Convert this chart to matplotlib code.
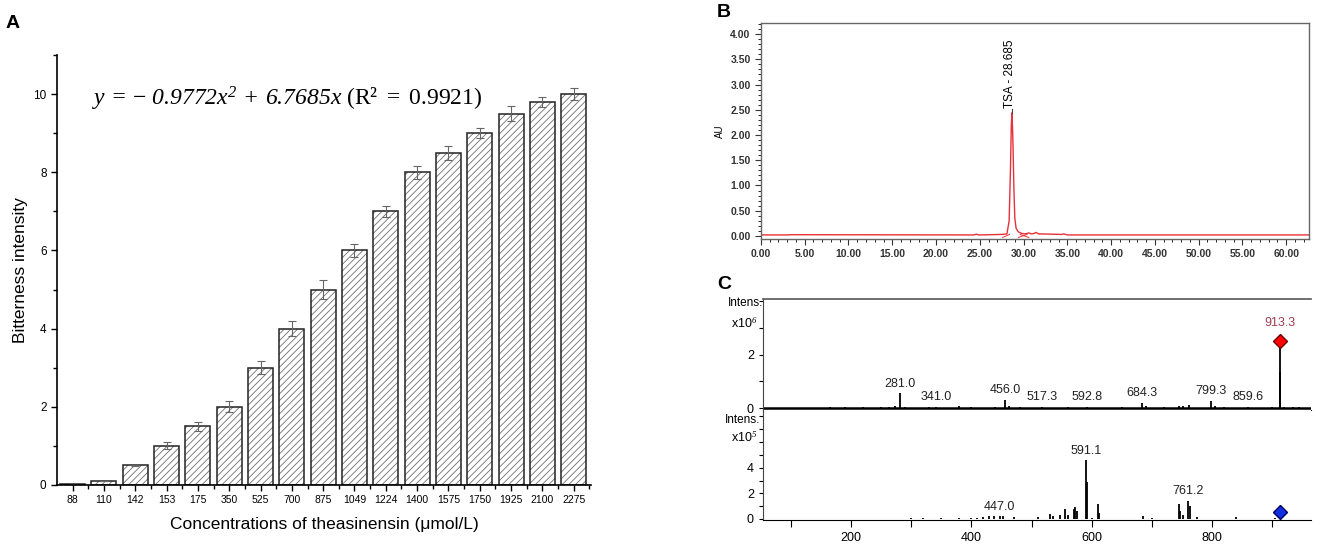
import matplotlib.pyplot as plt
from matplotlib.ticker import MultipleLocator, FormatStrFormatter
import numpy as np

plt.rcParams['font.family'] = ['Liberation Sans', 'DejaVu Sans']
plt.rcParams['hatch.linewidth'] = 0.6
plt.rcParams['mathtext.fontset'] = 'custom'
plt.rcParams['mathtext.rm'] = 'Liberation Serif:italic'
plt.rcParams['mathtext.it'] = 'Liberation Serif:italic'
plt.rcParams['mathtext.sf'] = 'Liberation Serif'

# panel A - bitterness
conc = ['88', '110', '142', '153', '175', '350', '525', '700', '875', '1049',
        '1224', '1400', '1575', '1750', '1925', '2100', '2275']
bitter = [0.02, 0.1, 0.5, 1.0, 1.5, 2.0, 3.0, 4.0, 5.0, 6.0, 7.0, 8.0, 8.5, 9.0, 9.5, 9.8, 10.0]
bitter_err = [0, 0, 0.02, 0.09, 0.11, 0.14, 0.17, 0.19, 0.24, 0.17, 0.14, 0.16, 0.18, 0.13, 0.19, 0.12, 0.15]
equation = (r'$y\,=\,\mathsf{-}\ 0.9772x^2\,+\,6.7685x\ \mathsf{(R' + '\u00b2'
            + r'\ =\ 0.9921)}$')

# panel B - HPLC trace
rt = [0, 3.0, 3.5, 24.3, 24.6, 24.9, 27.5, 28.1, 28.35, 28.5, 28.6, 28.68, 28.78, 28.9, 29.0, 29.15,
      29.4, 29.8, 30.2, 30.6, 30.9, 31.2, 31.45, 31.7, 32.2, 34.3, 34.6, 35.0, 45.0, 63.0]
au = [0.02, 0.02, 0.025, 0.02, 0.035, 0.02, 0.03, 0.04, 0.3, 1.3, 2.2, 2.44, 1.9, 0.9, 0.35, 0.15,
      0.08, 0.05, 0.04, 0.06, 0.04, 0.05, 0.07, 0.04, 0.04, 0.03, 0.04, 0.02, 0.02, 0.02]

# panel C - MS spectra
ms1_mz = [165, 190, 220, 250, 262, 272, 281.0, 290, 330, 341.0, 380, 400, 440, 456.0, 462, 480,
          517.3, 560, 592.8, 650, 684.3, 690, 720, 745, 752, 762, 799.3, 805, 820, 859.6, 900,
          913.3, 914.3, 920, 935, 945]
ms1_int = [0.03, 0.03, 0.02, 0.04, 0.05, 0.06, 0.55, 0.03, 0.03, 0.05, 0.06, 0.03, 0.03, 0.3, 0.08, 0.03,
           0.03, 0.02, 0.04, 0.04, 0.2, 0.07, 0.04, 0.06, 0.08, 0.1, 0.25, 0.06, 0.03, 0.03, 0.03,
           2.5, 1.35, 0.05, 0.04, 0.04]
ms1_lab = ['281.0', '341.0', '456.0', '517.3', '592.8', '684.3', '799.3', '859.6']
ms1_lab_y = [0.9, 0.42, 0.67, 0.41, 0.41, 0.56, 0.64, 0.41]

ms2_mz = [300, 320, 350, 380, 400, 410, 420, 430, 437, 447.0, 452, 470, 510, 530, 535, 548, 555, 560,
          570, 573, 575, 591.1, 592.1, 600, 610, 612, 686, 700, 745, 747, 752, 761.2, 763, 775, 840, 905]
ms2_int = [0.05, 0.08, 0.08, 0.07, 0.1, 0.1, 0.15, 0.2, 0.25, 0.25, 0.2, 0.15, 0.15, 0.4, 0.25, 0.3, 0.8, 0.3,
           0.8, 0.9, 0.6, 4.6, 2.9, 0.1, 1.2, 0.5, 0.2, 0.1, 1.2, 0.6, 0.3, 1.4, 1.0, 0.15, 0.15, 0.1]
ms2_lab = ['447.0', '591.1', '761.2']
ms2_lab_y = [0.95, 5.3, 2.2]

fig = plt.figure(figsize=(13.25, 5.5), dpi=100)

# ---------- A ----------
axA = fig.add_axes([0.0430, 0.1182, 0.4030, 0.7818])
x = np.arange(len(conc))
axA.bar(x, bitter, 0.8, color='white', edgecolor='#707070', hatch='/////', linewidth=0)
axA.bar(x, bitter, 0.8, fill=False, edgecolor='#222222', linewidth=1.1)
axA.errorbar(x, bitter, yerr=bitter_err, fmt='none', ecolor='#666666', elinewidth=0.8,
             capsize=3, capthick=0.8)
axA.set_xlim(-0.5, 16.55)
axA.set_ylim(0, 11)
axA.set_xticks(x)
axA.set_xticklabels(conc, fontsize=7.5)
axA.set_xticks(x + 0.5, minor=True)
axA.yaxis.set_major_locator(MultipleLocator(2))
axA.yaxis.set_minor_locator(MultipleLocator(1))
axA.tick_params(axis='y', labelsize=8.5, length=4, width=1)
axA.tick_params(axis='x', length=4, width=1)
axA.tick_params(which='minor', length=3, width=1)
for s in ['top', 'right']:
    axA.spines[s].set_visible(False)
for s in ['left', 'bottom']:
    axA.spines[s].set_linewidth(1.2)
axA.set_ylabel('Bitterness intensity', fontsize=12.5, labelpad=4)
axA.set_xlabel('Concentrations of theasinensin (\u03bcmol/L)', fontsize=12.5, labelpad=8)
axA.text(6.85, 9.87, equation, fontsize=17, ha='center', va='center')
fig.text(0.004, 0.958, 'A', fontsize=14, fontweight='bold', va='center')

# ---------- B ----------
axB = fig.add_axes([0.5743, 0.5655, 0.4136, 0.3927])
axB.plot(rt, au, color='#e8303a', lw=1)
axB.plot([27.6, 28.4], [-0.03, 0.03], color='#e8303a', lw=0.7)
axB.plot([29.4, 30.4], [-0.03, 0.03], color='#e8303a', lw=0.7)
axB.plot([29.6, 30.6], [0.03, -0.03], color='#e8303a', lw=0.7)
axB.plot([28.65, 28.65], [2.44, 2.52], color='#444444', lw=0.8)
axB.text(28.5, 2.53, 'TSA - 28.685', rotation=90, ha='center', va='bottom', fontsize=8.5)
axB.set_xlim(0, 62.6)
axB.set_ylim(-0.06, 4.22)
axB.xaxis.set_major_locator(MultipleLocator(5))
axB.xaxis.set_minor_locator(MultipleLocator(1))
axB.yaxis.set_major_locator(MultipleLocator(0.5))
axB.yaxis.set_minor_locator(MultipleLocator(0.1))
axB.xaxis.set_major_formatter(FormatStrFormatter('%.2f'))
axB.yaxis.set_major_formatter(FormatStrFormatter('%.2f'))
axB.tick_params(labelsize=7.5, length=4, width=0.8, colors='#333333')
axB.tick_params(which='minor', length=2, width=0.6)
for lab in axB.get_xticklabels() + axB.get_yticklabels():
    lab.set_fontweight('bold')
for s in axB.spines.values():
    s.set_color('#666666')
    s.set_linewidth(1)
axB.set_ylabel('AU', fontsize=7, labelpad=4)
fig.text(0.541, 0.978, 'B', fontsize=14, fontweight='bold', va='center')

# ---------- C ----------
cfont = ['Liberation Sans Narrow', 'Liberation Sans']
axC1 = fig.add_axes([0.5758, 0.2545, 0.4136, 0.2018])
axC1.vlines(ms1_mz, 0, ms1_int, color='black', lw=1.3)
axC1.axhline(0, color='black', lw=1.8)
axC1.plot([913.3], [2.5], 'D', color='red', mec='#700000', ms=7)
for m, ly in zip(ms1_lab, ms1_lab_y):
    axC1.text(float(m), ly, m, ha='center', va='center', fontsize=9, family=cfont, color='#222222')
axC1.text(913.3, 3.2, '913.3', ha='center', va='center', fontsize=9, family=cfont, color='#a04050')
axC1.set_xlim(53, 965)
axC1.set_ylim(-0.075, 4.08)
axC1.set_xticks([])
axC1.set_yticks([0, 1, 2, 3, 4])
axC1.set_yticklabels(['0', '', '2', '', ''], fontsize=9, family=cfont)
axC1.tick_params(axis='y', length=3, width=0.8)
axC1.spines['right'].set_visible(False)
axC1.spines['top'].set_color('#555555')
axC1.spines['top'].set_linewidth(1.2)
axC1.spines['left'].set_color('#444444')

axC2 = fig.add_axes([0.5758, 0.0545, 0.4136, 0.2])
axC2.vlines(ms2_mz, 0, ms2_int, color='black', lw=1.3)
axC2.plot([913.3], [0.55], 'D', color='#1030e0', mec='#000060', ms=7)
for m, ly in zip(ms2_lab, ms2_lab_y):
    axC2.text(float(m), ly, m, ha='center', va='center', fontsize=9, family=cfont, color='#222222')
axC2.set_xlim(53, 965)
axC2.set_ylim(-0.08, 8.5)
axC2.set_xticks([100, 200, 300, 400, 500, 600, 700, 800, 900])
axC2.set_xticklabels(['', '200', '', '400', '', '600', '', '800', ''], fontsize=9, family=cfont)
axC2.set_yticks([0, 1, 2, 3, 4, 5, 6, 7, 8])
axC2.set_yticklabels(['0', '', '2', '', '4', '', '', '', ''], fontsize=9, family=cfont)
axC2.tick_params(length=3, width=0.8)
axC2.tick_params(axis='x', length=5)
axC2.spines['right'].set_visible(False)
axC2.spines['top'].set_visible(False)
axC2.spines['left'].set_color('#444444')

fig.text(0.549, 0.449, 'Intens.', fontsize=8.5, family=cfont, va='center')
fig.text(0.552, 0.413, 'x10$^6$', fontsize=9, family=cfont, va='center')
fig.text(0.547, 0.236, 'Intens.', fontsize=8.5, family=cfont, va='center')
fig.text(0.552, 0.205, 'x10$^5$', fontsize=9, family=cfont, va='center')
fig.text(0.541, 0.482, 'C', fontsize=14, fontweight='bold', va='center')

fig.savefig('out.png', dpi=100)
